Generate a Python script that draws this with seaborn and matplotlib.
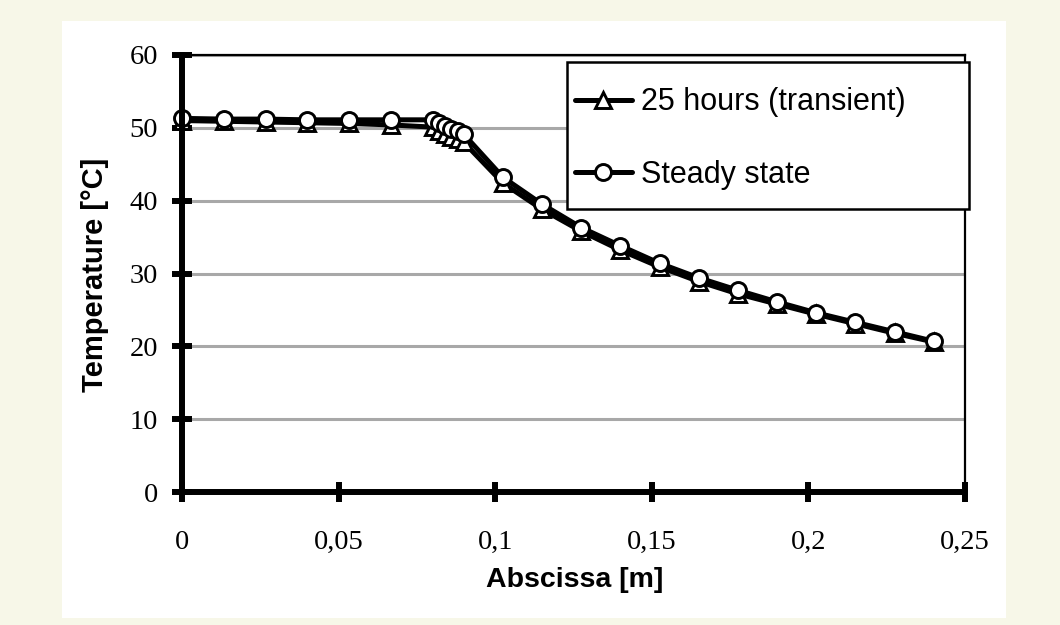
import matplotlib
matplotlib.use("Agg")
import matplotlib.pyplot as plt
import seaborn as sns
from matplotlib.patches import Rectangle

# ---- data ----
abscissa = [0, 0.01333, 0.02667, 0.04, 0.05333, 0.06667, 0.08, 0.082, 0.084, 0.086, 0.088, 0.09,
            0.1025, 0.115, 0.1275, 0.14, 0.1525, 0.165, 0.1775, 0.19, 0.2025, 0.215, 0.2275, 0.24]
transient = [51.0, 50.9, 50.8, 50.7, 50.6, 50.4, 50.1, 49.6, 49.2, 48.8, 48.4, 48.0,
             42.4, 38.8, 35.8, 33.2, 30.9, 28.9, 27.2, 25.8, 24.4, 23.1, 21.8, 20.6]
steady = [51.3, 51.2, 51.2, 51.1, 51.1, 51.1, 51.1, 50.7, 50.3, 49.9, 49.5, 49.1,
          43.2, 39.5, 36.3, 33.8, 31.4, 29.4, 27.7, 26.1, 24.6, 23.3, 22.0, 20.7]
series_names = ["25 hours (transient)", "Steady state"]
x_ticks = [0, 0.05, 0.1, 0.15, 0.2, 0.25]
x_tick_labels = ["0", "0,05", "0,1", "0,15", "0,2", "0,25"]
y_ticks = [0, 10, 20, 30, 40, 50, 60]
x_label = "Abscissa [m]"
y_label = "Temperature [°C]"

sns.set_style("white")
plt.rcParams["font.family"] = ["Liberation Sans", "DejaVu Sans"]
plt.rcParams["text.color"] = "black"
plt.rcParams["axes.labelcolor"] = "black"

W, H = 1060, 625
fig = plt.figure(figsize=(W / 100, H / 100), dpi=100, facecolor="#f7f7e8")
fig.add_artist(Rectangle((62 / W, 1 - 618 / H), (1006 - 62) / W, (618 - 21) / H,
                         transform=fig.transFigure, facecolor="white", edgecolor="none", zorder=-5))
ax = fig.add_axes([182 / W, 1 - 492 / H, (965 - 182) / W, (492 - 55) / H])

common = dict(color="black", linewidth=3.6, markersize=11.5, markerfacecolor="white",
              markeredgecolor="black", markeredgewidth=2.1, clip_on=False, zorder=4)
sns.lineplot(x=abscissa, y=transient, marker="^", label=series_names[0], ax=ax, **common)
sns.lineplot(x=abscissa, y=steady, marker="o", label=series_names[1], ax=ax, **common)

ax.set_xlim(0, 0.25)
ax.set_ylim(0, 60)
ax.set_xticks(x_ticks)
ax.set_xticklabels(x_tick_labels)
ax.set_yticks(y_ticks)
ax.yaxis.grid(True, color="#a8a8a8", linewidth=2.2)
ax.xaxis.grid(False)
ax.set_axisbelow(True)

for s in ["left", "bottom"]:
    ax.spines[s].set_linewidth(4.3)
    ax.spines[s].set_color("black")
    ax.spines[s].set_zorder(5)
for s in ["top", "right"]:
    ax.spines[s].set_linewidth(1.6)
    ax.spines[s].set_color("black")

ax.tick_params(axis="both", which="major", bottom=True, left=True, direction="inout",
               length=14.5, width=4.3, color="black", labelcolor="black",
               labelsize=20.5, labelfontfamily="Liberation Serif")
ax.tick_params(axis="y", pad=10)
ax.tick_params(axis="x", pad=20)

ax.set_xlabel(x_label, fontsize=20.5, fontweight="bold", va="center", color="black")
ax.set_ylabel(y_label, fontsize=21, fontweight="bold", va="center", color="black")
ax.xaxis.set_label_coords(0.502, (492 - 580) / (492 - 55))
ax.yaxis.set_label_coords((95 - 182) / (965 - 182), 0.497)

# legend box (Excel style: extra room on the right)
ax.add_patch(Rectangle((567 / W, 1 - 209 / H), (969 - 567) / W, (209 - 62) / H,
                       transform=fig.transFigure, facecolor="white", edgecolor="black",
                       linewidth=1.8, zorder=9, clip_on=False))
leg = ax.legend(loc="center left", bbox_to_anchor=(575 / W, 1 - 138.5 / H), bbox_transform=fig.transFigure,
                frameon=False, borderpad=0, labelspacing=1.38, handlelength=1.85,
                handletextpad=0.3, borderaxespad=0,
                prop={"family": "Liberation Sans", "size": 22})
for t in leg.get_texts():
    t.set_color("black")
leg.set_zorder(10)

fig.savefig("out.png", dpi=100, facecolor=fig.get_facecolor())
